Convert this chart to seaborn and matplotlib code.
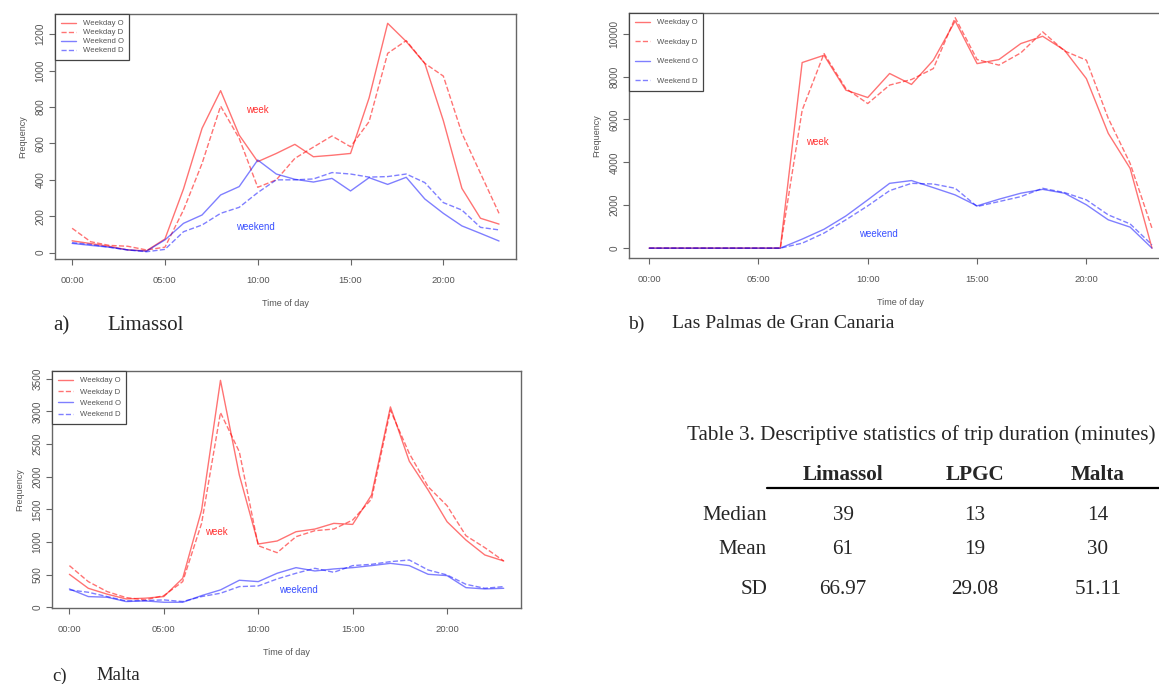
import numpy as np
import pandas as pd
import matplotlib
matplotlib.use("Agg")
import matplotlib.pyplot as plt
import seaborn as sns

# HOURS OF THE DAY
hours = list(range(24))
tick_hours = [0, 5, 10, 15, 20]
tick_labels = ["00:00", "05:00", "10:00", "15:00", "20:00"]

# LIMASSOL
lim_wd_o = [65, 50, 35, 15, 10, 75, 350, 683, 890, 646, 500, 545, 595, 527, 535, 545, 850, 1260, 1160, 1040, 725, 353, 189, 157]
lim_wd_d = [134, 60, 40, 35, 15, 30, 234, 490, 805, 628, 359, 400, 518, 580, 641, 582, 720, 1095, 1165, 1040, 970, 656, 436, 216]
lim_we_o = [51, 40, 30, 15, 8, 70, 161, 207, 317, 363, 509, 432, 403, 388, 408, 339, 412, 375, 414, 295, 216, 147, 106, 64]
lim_we_d = [55, 45, 30, 15, 5, 18, 115, 152, 216, 249, 330, 400, 400, 405, 440, 432, 415, 418, 432, 385, 275, 234, 139, 125]

# LAS PALMAS DE GRAN CANARIA
lp_wd_o = [0, 0, 0, 0, 0, 0, 0, 8650, 8990, 7365, 7020, 8140, 7630, 8760, 10590, 8600, 8790, 9535, 9875, 9225, 7900, 5350, 3720, 0]
lp_wd_d = [0, 0, 0, 0, 0, 0, 0, 6430, 9070, 7440, 6740, 7600, 7860, 8370, 10740, 8790, 8530, 9100, 10080, 9190, 8760, 6050, 3950, 930]
lp_we_o = [0, 0, 0, 0, 0, 0, 0, 420, 880, 1500, 2250, 3020, 3150, 2820, 2480, 1970, 2280, 2560, 2740, 2560, 2020, 1320, 980, 0]
lp_we_d = [0, 0, 0, 0, 0, 0, 0, 230, 700, 1320, 1970, 2680, 3020, 2990, 2790, 1940, 2170, 2400, 2790, 2590, 2250, 1550, 1130, 155]

# MALTA
mt_wd_o = [504, 290, 200, 127, 138, 163, 443, 1487, 3474, 2022, 968, 1014, 1156, 1197, 1284, 1268, 1717, 3067, 2236, 1793, 1309, 1029, 800, 708]
mt_wd_d = [637, 392, 239, 148, 112, 178, 392, 1284, 2980, 2379, 942, 835, 1080, 1172, 1197, 1335, 1656, 3016, 2354, 1844, 1554, 1095, 912, 708]
mt_we_o = [280, 163, 153, 87, 97, 76, 76, 178, 265, 413, 392, 520, 606, 555, 586, 606, 637, 672, 637, 504, 484, 300, 280, 290]
mt_we_d = [265, 229, 163, 97, 102, 112, 87, 163, 214, 316, 326, 433, 520, 596, 535, 637, 657, 698, 723, 570, 494, 351, 290, 316]

# TABLE 3
table_cols = ["Limassol", "LPGC", "Malta"]
table_rows = ["Median", "Mean", "SD"]
table_vals = [["39", "13", "14"], ["61", "19", "30"], ["66.97", "29.08", "51.11"]]

sns.set_style("white")
plt.rcParams["font.family"] = ["Liberation Sans", "DejaVu Sans"]

fig = plt.figure(figsize=(11.59, 6.84), dpi=100)

red = (1.0, 0.0, 0.0, 0.55)
blue = (0.0, 0.0, 1.0, 0.5)
gray = "#555555"


def city_panel(rect, series, ylim, yticks, week_xy, weekend_xy, leg_space):
    ax = fig.add_axes(rect)
    names = ["Weekday O", "Weekday D", "Weekend O", "Weekend D"]
    colors = [red, red, blue, blue]
    styles = ["-", "--", "-", "--"]
    for name, vals, c, ls in zip(names, series, colors, styles):
        sns.lineplot(x=hours, y=vals, ax=ax, color=c, linestyle=ls,
                     linewidth=1.0, label=name)
    ax.set_xlim(-0.92, 23.92)
    ax.set_ylim(*ylim)
    ax.set_xticks(tick_hours)
    ax.set_xticklabels(tick_labels)
    ax.set_yticks(yticks)
    ax.set_yticklabels([str(v) for v in yticks], rotation=90, va="center")
    ax.tick_params(axis="both", direction="out", length=4, width=0.8,
                   color="#666666", labelcolor=gray,
                   bottom=True, left=True)
    ax.tick_params(axis="x", pad=8, labelsize=6.8)
    ax.tick_params(axis="y", pad=3, labelsize=7.2)
    for s in ax.spines.values():
        s.set_color("#666666")
        s.set_linewidth(1.0)
    ax.set_xlabel("Time of day", fontsize=6.5, color=gray, labelpad=10)
    ax.set_ylabel("Frequency", fontsize=6.5, color=gray, labelpad=6)
    leg = ax.legend(loc="upper left", borderaxespad=0, fancybox=False,
                    edgecolor="#444444", framealpha=1, fontsize=5.6,
                    handlelength=2.0, handletextpad=0.8,
                    labelspacing=leg_space, labelcolor=gray, borderpad=0.75)
    leg.get_frame().set_linewidth(0.9)
    ax.text(week_xy[0], week_xy[1], "week", color="#ff3030", fontsize=7,
            ha="center", va="center")
    ax.text(weekend_xy[0], weekend_xy[1], "weekend", color="#3a50ff",
            fontsize=7, ha="center", va="center")
    return ax


city_panel([0.0475, 0.6213, 0.3978, 0.3582],
           [lim_wd_o, lim_wd_d, lim_we_o, lim_we_d],
           (-35, 1311), [0, 200, 400, 600, 800, 1000, 1200],
           (10.0, 784), (9.85, 143), 0.2)

city_panel([0.5427, 0.6228, 0.4686, 0.3582],
           [lp_wd_o, lp_wd_d, lp_we_o, lp_we_d],
           (-460, 10960), [0, 2000, 4000, 6000, 8000, 10000],
           (7.7, 4930), (10.5, 650), 1.55)

city_panel([0.0449, 0.1111, 0.4047, 0.3465],
           [mt_wd_o, mt_wd_d, mt_we_o, mt_we_d],
           (-12, 3617), [0, 500, 1000, 1500, 2000, 2500, 3000, 3500],
           (7.8, 1146), (12.1, 265), 0.5)

# PANEL CAPTIONS
serif = ["Liberation Serif", "DejaVu Serif"]
fig.text(53 / 1159, 1 - 326 / 684, "a)", fontsize=15, family=serif, va="center")
fig.text(107 / 1159, 1 - 326 / 684, "Limassol", fontsize=15, family=serif, va="center")
fig.text(628 / 1159, 1 - 324 / 684, "b)", fontsize=14, family=serif, va="center")
fig.text(672 / 1159, 1 - 324 / 684, "Las Palmas de Gran Canaria", fontsize=14, family=serif, va="center")
fig.text(52 / 1159, 1 - 676 / 684, "c)", fontsize=13.5, family=serif, va="center")
fig.text(96 / 1159, 1 - 676 / 684, "Malta", fontsize=13.5, family=serif, va="center")

# TABLE
tfs = 15.2
fig.text(687 / 1159, 1 - 435 / 684,
         "Table 3. Descriptive statistics of trip duration (minutes)",
         fontsize=tfs, family=serif, va="center")
col_x = [843, 975, 1098]
for cx, name in zip(col_x, table_cols):
    fig.text(cx / 1159, 1 - 475 / 684, name, ha="center", va="center",
             fontsize=tfs, family=serif, fontweight="bold")
fig.add_artist(plt.Line2D([767 / 1159, 1.0], [1 - 488 / 684, 1 - 488 / 684],
                          color="black", linewidth=1.6))
row_y = [516, 549, 590]
for ry, rname, vals in zip(row_y, table_rows, table_vals):
    fig.text(767 / 1159, 1 - ry / 684, rname, ha="right", va="center",
             fontsize=tfs, family=serif)
    for cx, v in zip(col_x, vals):
        fig.text(cx / 1159, 1 - ry / 684, v, ha="center", va="center",
                 fontsize=tfs, family=serif)

plt.savefig("out.png", dpi=100)
